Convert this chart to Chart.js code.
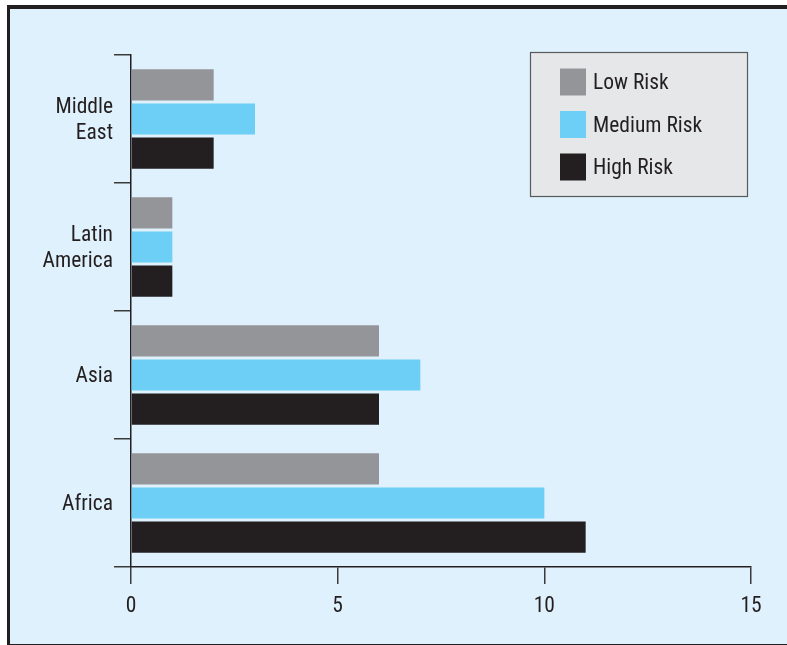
<!DOCTYPE html>
<html lang="en">
<head>
  <meta charset="UTF-8">
  <title>Risk by Region</title>
  <script src="https://cdn.jsdelivr.net/npm/chart.js"></script>
  <style>
    html, body { margin: 0; padding: 0; background: #fff; overflow: hidden; }
    .frame {
      position: absolute; left: 7px; top: 5px; width: 800px; height: 635px;
      background: #dff1fc; border: 3px solid #231f20; border-top-width: 4px;
    }
    .chart-box { position: absolute; left: 0; top: 0; width: 787px; height: 645px; }
  </style>
</head>
<body>
  <div class="frame"></div>
  <div class="chart-box">
    <canvas id="riskChart" width="787" height="645"></canvas>
  </div>

  <script>
    // Regions, top to bottom
    const regions = [['Middle', 'East'], ['Latin', 'America'], 'Asia', 'Africa'];
    const seriesNames = ['Low Risk', 'Medium Risk', 'High Risk'];
    const lowRisk    = [2, 1, 6, 6];
    const mediumRisk = [3, 1, 7, 10];
    const highRisk   = [2, 1, 6, 11];
    const xTicks     = [0, 5, 10, 15];

    const colors = ['#939598', '#6dcff6', '#231f20'];
    const FONT = "'Liberation Sans Narrow', 'Roboto Condensed', 'DejaVu Sans Condensed', 'Liberation Sans', sans-serif";
    const ink = '#231f20';

    // boxed legend in the upper right of the plot
    const boxLegend = {
      id: 'boxLegend',
      afterDraw(chart) {
        const ctx = chart.ctx;
        const x = 530, y = 52, w = 218, h = 145;
        ctx.save();
        ctx.fillStyle = '#e6e7e8';
        ctx.fillRect(x, y, w, h);
        ctx.strokeStyle = '#58595b';
        ctx.lineWidth = 1.2;
        ctx.strokeRect(x + 0.5, y + 0.5, w - 1, h - 1);
        ctx.font = '21.5px ' + FONT;
        ctx.textBaseline = 'middle';
        chart.data.datasets.forEach((ds, i) => {
          const cy = 82 + i * 42.5;
          ctx.fillStyle = ds.backgroundColor;
          ctx.fillRect(560, cy - 13.5, 26, 27);
          ctx.fillStyle = ink;
          ctx.fillText(ds.label, 593, cy + 2);
        });
        ctx.restore();
      }
    };

    const ctx = document.getElementById('riskChart').getContext('2d');
    new Chart(ctx, {
      type: 'bar',
      data: {
        labels: regions,
        datasets: [lowRisk, mediumRisk, highRisk].map((vals, i) => ({
          label: seriesNames[i],
          data: vals,
          backgroundColor: colors[i],
          categoryPercentage: 0.8,
          barPercentage: 0.91
        }))
      },
      options: {
        indexAxis: 'y',
        responsive: false,
        animation: false,
        layout: { padding: { left: 0, top: 55, right: 36, bottom: 28 } },
        plugins: { legend: { display: false }, tooltip: { enabled: false } },
        scales: {
          x: {
            min: 0, max: 15,
            afterBuildTicks: s => { s.ticks = xTicks.map(v => ({ value: v })); },
            afterFit: s => { s.height = 50; },
            border: { display: true, color: ink, width: 1.5 },
            grid: { drawOnChartArea: false, drawTicks: true, tickLength: 17, color: '#3a3a3a', lineWidth: 1.5 },
            ticks: { color: ink, padding: 10, font: { family: FONT, size: 21.5 } }
          },
          y: {
            offset: true,
            afterFit: s => { s.width = 131; },
            border: { display: true, color: ink, width: 1.5 },
            grid: { offset: true, drawOnChartArea: false, drawTicks: true, tickLength: 17, color: '#3a3a3a', lineWidth: 1.5 },
            ticks: { color: ink, padding: 1, labelOffset: 2, font: { family: FONT, size: 21.5, lineHeight: 1.22 } }
          }
        }
      },
      plugins: [boxLegend]
    });
  </script>
</body>
</html>
